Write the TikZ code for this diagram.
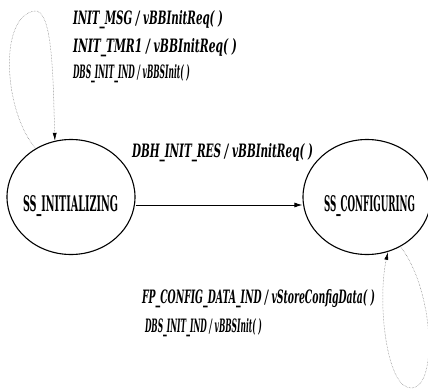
\documentclass[tikz,border=0pt]{standalone}
\usepackage{fontspec}
\setmainfont{Liberation Serif}
\newfontfamily\heavyfont{DejaVu Serif Condensed}
\usetikzlibrary{arrows.meta,shapes.geometric}
% condensed bold italic transition label: width, height, text
\newcommand{\translbl}[3]{\resizebox{#1}{#2}{\heavyfont\bfseries\itshape #3}}
% condensed bold upright state name
\newcommand{\statelbl}[3]{\resizebox{#1}{#2}{\heavyfont\bfseries #3}}
\begin{document}
\begin{tikzpicture}[x=1pt,y=-1pt,
  state/.style={draw=black,line width=1.1pt,ellipse,minimum width=128pt,minimum height=115pt,inner sep=0pt},
  txt/.style={anchor=base west,inner sep=0pt,outer sep=0pt},
  trans/.style={draw=black,line width=0.9pt,-{Latex[length=8pt,width=5pt]}},
  selfloop/.style={draw=black!55,line width=0.5pt,densely dotted,-{Latex[length=8pt,width=4pt,fill=black,color=black]}}]
  \useasboundingbox (0,0) rectangle (428,391);

  % states
  \node[state] (init) at (71,197) {};
  \node[state] (conf) at (367,197) {};
  \node[txt] (initname) at (23,211) {\statelbl{95pt}{16pt}{SS\_INITIALIZING}};
  \node[txt] (confname) at (324,211) {\statelbl{91pt}{16pt}{SS\_CONFIGURING}};

  % transition between the states
  \draw[trans] ([yshift=-8pt]init.east) -- ([yshift=-8pt]conf.west);
  \node[txt] (l4) at (132,157) {\translbl{181pt}{14pt}{DBH\_INIT\_RES / vBBInitReq( )}};

  % self loop on SS_INITIALIZING
  \draw[selfloop] (init.126) .. controls (4,112) and (-2,18) .. (34,11)
                  .. controls (52,8) and (53,70) .. (init.106);
  \node[txt] (l1) at (73,24) {\translbl{150pt}{14pt}{INIT\_MSG / vBBInitReq( )}};
  \node[txt] (l2) at (73,52) {\translbl{164pt}{14pt}{INIT\_TMR1 / vBBInitReq( )}};
  \node[txt] (l3) at (73,78) {\translbl{117pt}{14pt}{DBS\_INIT\_IND / vBBSInit( )}};

  % self loop on SS_CONFIGURING
  \draw[selfloop] (conf.-56) .. controls (434,290) and (438,386) .. (412,388)
                  .. controls (386,390) and (377,300) .. (conf.-69);
  \node[txt] (l5) at (142,303) {\translbl{233pt}{14pt}{FP\_CONFIG\_DATA\_IND / vStoreConfigData( )}};
  \node[txt] (l6) at (145,332) {\translbl{117pt}{14pt}{DBS\_INIT\_IND / vBBSInit( )}};
\end{tikzpicture}
\end{document}
